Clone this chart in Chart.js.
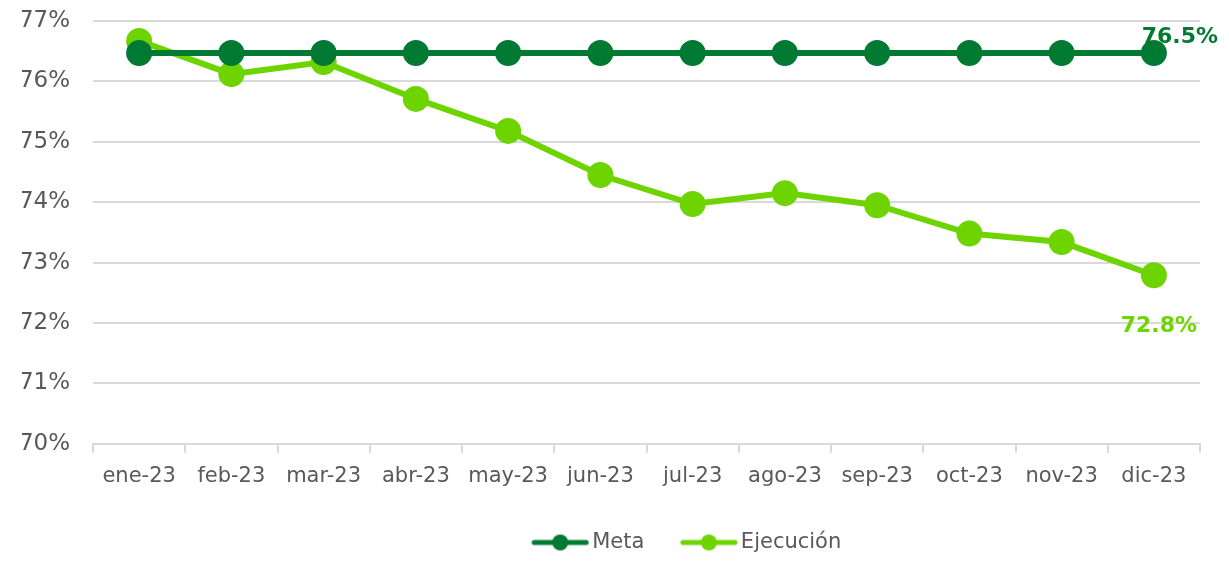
<!DOCTYPE html>
<html>
<head>
<meta charset="utf-8">
<script src="https://cdn.jsdelivr.net/npm/chart.js@4.4.0/dist/chart.umd.min.js"></script>
<style>
  html, body { margin: 0; padding: 0; background: #fff; }
  #wrap { width: 1229px; height: 563px; }
</style>
</head>
<body>
<div id="wrap"><canvas id="c"></canvas></div>
<script>
// months on the x axis
const months = ["ene-23","feb-23","mar-23","abr-23","may-23","jun-23","jul-23","ago-23","sep-23","oct-23","nov-23","dic-23"];
// target line and actual execution (percent)
const meta      = [76.47,76.47,76.47,76.47,76.47,76.47,76.47,76.47,76.47,76.47,76.47,76.47];
const ejecucion = [76.67,76.12,76.32,75.71,75.18,74.45,73.97,74.15,73.95,73.48,73.34,72.79];
const yTicks    = [70,71,72,73,74,75,76,77];

const DARK = "#007A33", LIME = "#6DD400", TXT = "#595959", GRID = "#d9d9d9";
const FONT = "'DejaVu Sans', Verdana, sans-serif";

// legend swatch: short line with a dot in the middle
function swatch(color) {
  const cv = document.createElement("canvas");
  cv.width = 58; cv.height = 18;
  const g = cv.getContext("2d");
  g.strokeStyle = color; g.lineWidth = 5; g.lineCap = "round";
  g.beginPath(); g.moveTo(3, 9); g.lineTo(55, 9); g.stroke();
  g.fillStyle = color;
  g.beginPath(); g.arc(29, 9, 8, 0, Math.PI * 2); g.fill();
  return cv;
}

// value labels on the last point of each series
const endLabels = {
  id: "endLabels",
  afterDatasetsDraw(chart) {
    const ctx = chart.ctx;
    ctx.save();
    ctx.font = "bold 22px " + FONT;
    ctx.textAlign = "center";
    ctx.textBaseline = "middle";
    chart.data.datasets.forEach((ds, i) => {
      const pts = chart.getDatasetMeta(i).data;
      const p = pts[pts.length - 1];
      const v = ds.data[ds.data.length - 1];
      ctx.fillStyle = ds.borderColor;
      if (i === 0) ctx.fillText(v.toFixed(1) + "%", p.x + 26, p.y - 16);
      else ctx.fillText(v.toFixed(1) + "%", p.x + 5, p.y + 51);
    });
    ctx.restore();
  }
};

// the legend sits a bit right of centre in the original
const legendShift = {
  id: "legendShift",
  afterLayout(chart) {
    const lg = chart.legend;
    lg.left += 79; lg.right += 79;
  }
};

new Chart(document.getElementById("c"), {
  type: "line",
  data: {
    labels: months,
    datasets: [
      { label: "Meta", data: meta, borderColor: DARK, backgroundColor: DARK, borderWidth: 6,
        pointRadius: 10, pointHoverRadius: 10, pointStyle: "circle", tension: 0 },
      { label: "Ejecución", data: ejecucion, borderColor: LIME, backgroundColor: LIME, borderWidth: 6,
        pointRadius: 10, pointHoverRadius: 10, pointStyle: "circle", tension: 0 }
    ]
  },
  options: {
    responsive: true, maintainAspectRatio: false, animation: false,
    layout: { padding: { left: 22, right: 29, top: 21, bottom: 0 } },
    plugins: {
      tooltip: { enabled: false },
      legend: {
        position: "bottom",
        labels: {
          color: TXT, font: { family: FONT, size: 21 }, padding: 43,
          usePointStyle: true, pointStyleWidth: 43, boxHeight: 18,
          generateLabels(chart) {
            return chart.data.datasets.map((ds, i) => ({
              text: ds.label, fillStyle: ds.borderColor, strokeStyle: ds.borderColor,
              lineWidth: 0, pointStyle: swatch(ds.borderColor), datasetIndex: i, fontColor: TXT
            }));
          }
        }
      }
    },
    scales: {
      x: {
        offset: true,
        afterFit(s) { s.height -= 11; },
        grid: { offset: true, drawOnChartArea: false, color: GRID, tickLength: 9, lineWidth: 2 },
        border: { color: GRID, width: 2 },
        ticks: { color: TXT, font: { family: FONT, size: 21 }, padding: 11, maxRotation: 0 }
      },
      y: {
        min: 70, max: 77,
        afterBuildTicks(s) { s.ticks = yTicks.map(v => ({ value: v })); },
        afterFit(s) { s.paddingTop = 0; s.paddingBottom = 0; s.width = 71; },
        grid: { color: GRID, lineWidth: 2, drawTicks: false },
        border: { display: false },
        ticks: { color: TXT, font: { family: FONT, size: 23 }, padding: 23, callback: v => v + "%" }
      }
    }
  },
  plugins: [endLabels, legendShift]
});
</script>
</body>
</html>
